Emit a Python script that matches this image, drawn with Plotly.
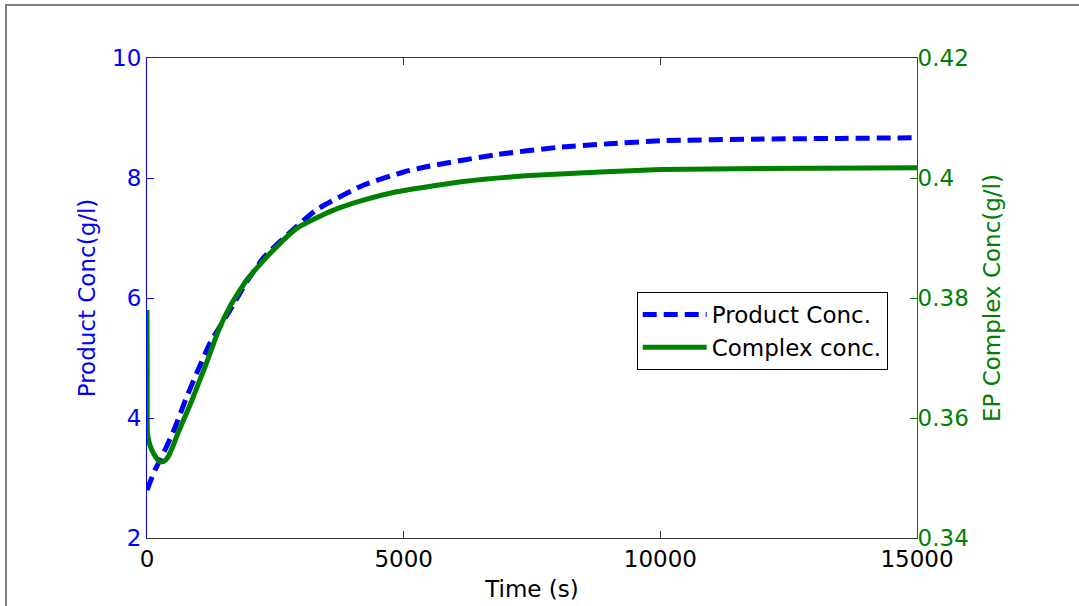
import plotly.graph_objects as go

# Product concentration (left axis, g/l)
t_product = [0, 150, 380, 550, 750, 970, 1230, 1620, 1950, 2300, 2900, 3305, 4214,
             5000, 5513, 6812, 8000, 9000, 10000, 12000, 13500, 15000]
product = [2.8, 3.12, 3.52, 3.85, 4.3, 4.75, 5.25, 5.8, 6.28, 6.7, 7.18, 7.47, 7.88,
           8.1, 8.2, 8.39, 8.51, 8.57, 8.62, 8.65, 8.66, 8.67]

# EP complex concentration (right axis, g/l)
t_complex = [0, 5, 10, 40, 92, 170, 253, 330, 409, 500, 604, 740, 877, 1000, 1130,
             1390, 1617, 1942, 2396, 2916, 3565, 4214, 4864, 6162, 7461, 8825, 10000,
             12000, 15000]
complex_c = [0.378, 0.368, 0.3575, 0.356, 0.3547, 0.3535, 0.3527, 0.3528, 0.3535,
             0.3552, 0.3575, 0.3602, 0.363, 0.3657, 0.3685, 0.3745, 0.3786, 0.383,
             0.3874, 0.3916, 0.3944, 0.3963, 0.3977, 0.3994, 0.4004, 0.4010, 0.4014,
             0.4016, 0.4017]

x_ticks = [0, 5000, 10000, 15000]
y1_ticks = [2, 4, 6, 8, 10]
y2_ticks = [0.34, 0.36, 0.38, 0.40, 0.42]
y2_labels = ["0.34", "0.36", "0.38", "0.4", "0.42"]

BLUE = "#0000FF"
GREEN = "#008000"
DARK = "#333333"
FONT = "DejaVu Sans, Liberation Sans, Arial, sans-serif"
FS = 23

fig = go.Figure()
fig.add_trace(go.Scatter(x=t_product, y=product, name="Product Conc.", mode="lines",
                         line=dict(color=BLUE, width=5, dash="14px,7px", shape="spline",
                                   smoothing=0.6), yaxis="y"))
fig.add_trace(go.Scatter(x=t_complex, y=complex_c, name="Complex conc.", mode="lines",
                         line=dict(color=GREEN, width=5, shape="spline", smoothing=0.5),
                         yaxis="y2"))

fig.update_layout(
    width=1079, height=606,
    margin=dict(l=147, r=162, t=58, b=68),
    paper_bgcolor="white", plot_bgcolor="white",
    font=dict(family=FONT, size=FS, color="black"),
    showlegend=True,
    legend=dict(x=0.636, y=0.5125, xanchor="left", yanchor="top",
                bgcolor="white", bordercolor="black", borderwidth=1,
                font=dict(family=FONT, size=FS, color="black"),
                tracegroupgap=0, itemwidth=64),
    xaxis=dict(range=[0, 15000], tickvals=x_ticks, ticktext=[str(v) for v in x_ticks],
               showgrid=False, zeroline=False, showline=True, linecolor=DARK, linewidth=1,
               mirror="ticks", ticks="inside", ticklen=7, tickcolor=DARK, automargin=False,
               tickfont=dict(size=FS, color="black"),
               title=dict(text="Time (s)", font=dict(size=FS, color="black"), standoff=10)),
    yaxis=dict(range=[2, 10], tickvals=y1_ticks, showgrid=False, zeroline=False,
               showline=True, linecolor=BLUE, linewidth=1, ticks="inside", ticklen=7,
               tickcolor=BLUE, tickfont=dict(size=FS, color=BLUE), automargin=False,
               title=dict(text="Product Conc(g/l)", font=dict(size=FS, color=BLUE), standoff=10)),
    yaxis2=dict(range=[0.34, 0.42], tickvals=y2_ticks, ticktext=y2_labels, overlaying="y",
                side="right", showgrid=False, zeroline=False, showline=True,
                linecolor=GREEN, linewidth=1, ticks="inside", ticklen=7, tickcolor=GREEN,
                tickfont=dict(size=FS, color=GREEN), ticklabelstandoff=-5, automargin=False,
                title=dict(text="EP Complex Conc(g/l)", font=dict(size=FS, color=GREEN), standoff=16)),
)

# outer frame (top and left edges visible in the reference)
fig.add_shape(type="line", xref="paper", yref="paper",
              x0=(5 - 147) / 770, x1=(1100 - 147) / 770,
              y0=(538 - 5) / 480, y1=(538 - 5) / 480,
              line=dict(color="#808080", width=2))
fig.add_shape(type="line", xref="paper", yref="paper",
              x0=(6 - 147) / 770, x1=(6 - 147) / 770,
              y0=(538 - 5) / 480, y1=(538 - 620) / 480,
              line=dict(color="#808080", width=2))

fig.write_html("out.html", config={"displayModeBar": False},
               post_script="document.body.style.margin='0';")
